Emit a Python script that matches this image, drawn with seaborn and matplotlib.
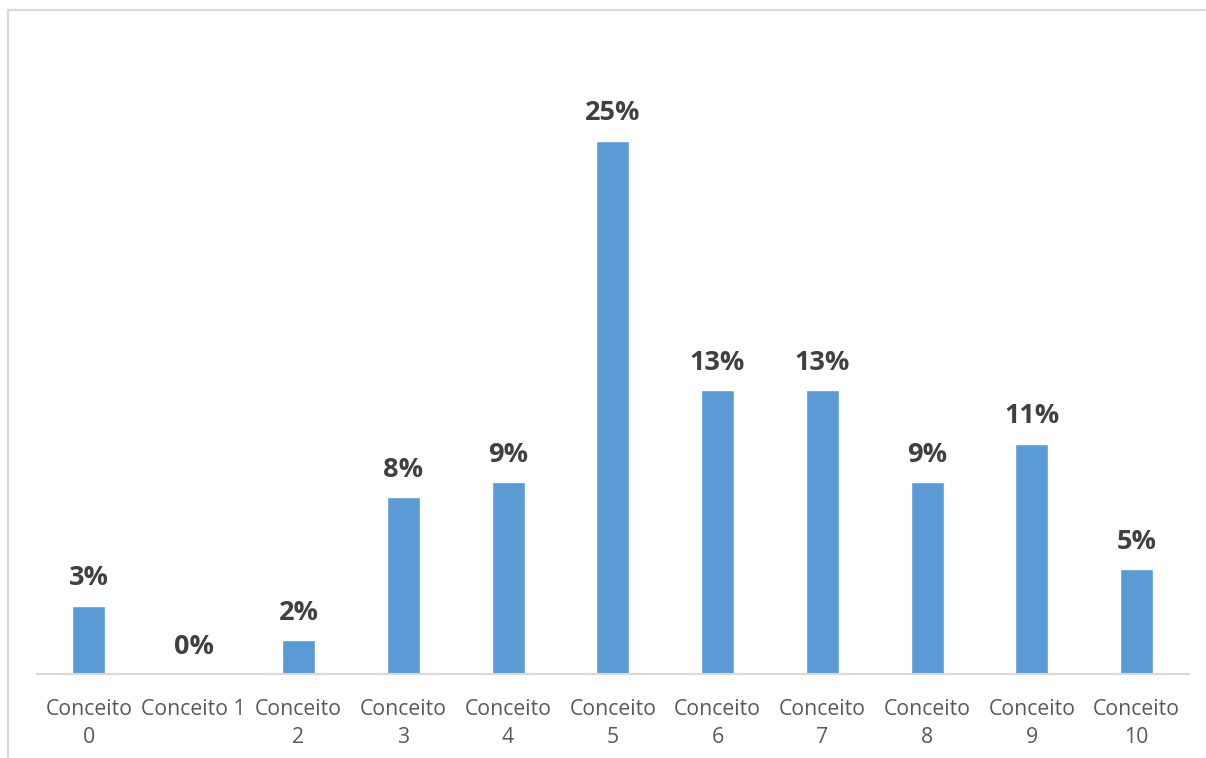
import matplotlib
matplotlib.use("Agg")
import matplotlib.pyplot as plt
import seaborn as sns
import pandas as pd
from matplotlib.patches import Rectangle

# Share of students per grade concept
categories = ["Conceito\n0", "Conceito 1", "Conceito\n2", "Conceito\n3", "Conceito\n4",
              "Conceito\n5", "Conceito\n6", "Conceito\n7", "Conceito\n8", "Conceito\n9",
              "Conceito\n10"]
shares = [0.032, 0.0, 0.016, 0.083, 0.090, 0.250, 0.133, 0.133, 0.090, 0.108, 0.049]

df = pd.DataFrame({"conceito": categories, "share": shares})

sns.set_theme(style="white")
plt.rcParams["font.family"] = ["Open Sans", "DejaVu Sans"]

DPI = 100
fig = plt.figure(figsize=(12.06, 7.58), dpi=DPI)
fig.patch.set_facecolor("white")

# light chart-area border (left and top edges visible)
fig.patches.append(Rectangle((7.5 / 1206, -0.1), 1.2, (758 - 10.5) / 758 + 0.1,
                             transform=fig.transFigure, fill=False,
                             edgecolor="#D9D9D9", linewidth=1.6))

ax = fig.add_axes([36.6 / 1206, (758 - 674) / 758, (1189 - 36.6) / 1206, (674 - 34) / 758])

sns.barplot(data=df, x="conceito", y="share", color="#5B9BD5", width=0.315,
            saturation=1, ax=ax)

ax.set_ylim(0, 0.30)
ax.set_xlim(-0.5, len(categories) - 0.5)
ax.set_xlabel("")
ax.set_ylabel("")
ax.set_yticks([])
for side in ("left", "right", "top"):
    ax.spines[side].set_visible(False)
ax.spines["bottom"].set_color("#D9D9D9")
ax.spines["bottom"].set_linewidth(1.5)
ax.tick_params(axis="x", length=0, pad=18, labelsize=15.3, labelcolor="#595959")
for lbl in ax.get_xticklabels():
    lbl.set_linespacing(1.45)
    lbl.set_multialignment("center")

for i, v in enumerate(shares):
    ax.annotate(f"{v:.0%}", (i, v), xytext=(0, 14.6), textcoords="offset points",
                ha="center", va="baseline", fontsize=19.5, fontweight="bold",
                color="#404040")

fig.savefig("out.png", dpi=DPI, facecolor="white")
